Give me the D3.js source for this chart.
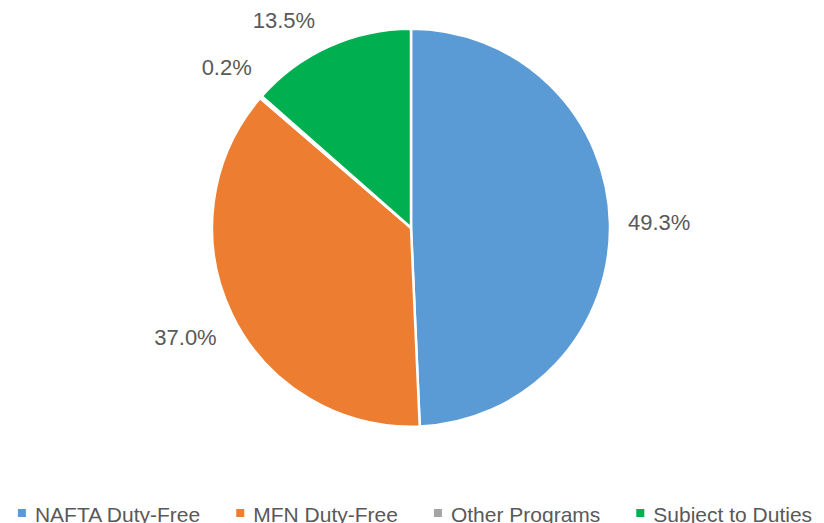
<!DOCTYPE html>
<html>
<head>
<meta charset="utf-8">
<script src="https://cdn.jsdelivr.net/npm/d3@7"></script>
<style>
  body { margin: 0; background: #fff; }
  svg { display: block; font-family: "Liberation Sans", Arial, sans-serif; }
</style>
</head>
<body>
<svg id="chart" width="824" height="523"></svg>
<script>
// share of imports by program, percent
var categories = ["NAFTA Duty-Free", "MFN Duty-Free", "Other Programs", "Subject to Duties"];
var values = [49.3, 37.0, 0.2, 13.5];
var colors = ["#5B9BD5", "#ED7D31", "#A5A5A5", "#00B050"];

var svg = d3.select("#chart"),
    width = +svg.attr("width"),
    height = +svg.attr("height");

var cx = 411, cy = 227.7, radius = 199;

var data = categories.map(function (c, i) {
    return {name: c, value: values[i], color: colors[i]};
});

var pie = d3.pie()
    .sort(null)
    .value(function (d) { return d.value; });

var arc = d3.arc()
    .innerRadius(0)
    .outerRadius(radius);

var arcs = pie(data);

var g = svg.append("g")
    .attr("transform", "translate(" + cx + "," + cy + ")");

g.selectAll("path")
    .data(arcs)
    .enter().append("path")
    .attr("d", arc)
    .attr("fill", function (d) { return d.data.color; })
    .attr("stroke", "#fff")
    .attr("stroke-width", 2.5)
    .attr("stroke-linejoin", "round");

// labels sit outside the end; nearest corner of the label box kept at a fixed gap
var labelGap = 217, halfH = 13, capHalf = 8, minTop = 12;

var labels = g.selectAll("text.lbl")
    .data(arcs)
    .enter().append("text")
    .attr("class", "lbl")
    .attr("text-anchor", "middle")
    .attr("font-size", 22)
    .attr("fill", "#595959")
    .text(function (d) { return d3.format(".1f")(d.data.value) + "%"; });

function boxCenter(theta, hw) {
    var ux = Math.sin(theta), uy = -Math.cos(theta);
    var lo = 0, hi = 500;
    for (var k = 0; k < 40; k++) {
        var m = (lo + hi) / 2,
            x = m * ux, y = m * uy,
            px = Math.max(x - hw, Math.min(0, x + hw)),
            py = Math.max(y - halfH, Math.min(0, y + halfH));
        if (Math.hypot(px, py) < labelGap) lo = m; else hi = m;
    }
    return [lo * ux, lo * uy];
}

labels.each(function (d) {
    var hw = this.getComputedTextLength() / 2;
    var theta = (d.startAngle + d.endAngle) / 2;
    var c = boxCenter(theta, hw);
    // slide along the circle if the label would run off the top
    var n = 0;
    while (cy + c[1] - capHalf < minTop && n < 400) {
        theta += theta > Math.PI ? -0.005 : 0.005;
        c = boxCenter(theta, hw);
        n++;
    }
    d3.select(this)
        .attr("x", c[0])
        .attr("y", c[1] + capHalf);
});

// legend along the bottom
var legend = svg.append("g")
    .attr("class", "legend");

var item = legend.selectAll("g")
    .data(data)
    .enter().append("g");

item.append("rect")
    .attr("width", 8)
    .attr("height", 8)
    .attr("y", 509)
    .attr("fill", function (d) { return d.color; });

item.append("text")
    .attr("x", 17)
    .attr("y", 522)
    .attr("font-size", 21)
    .attr("fill", "#595959")
    .text(function (d) { return d.name; });

var itemGap = 36, offsets = [], total = 0;
item.each(function () {
    var w = 17 + d3.select(this).select("text").node().getComputedTextLength();
    offsets.push(total);
    total += w + itemGap;
});
total -= itemGap;

var startX = 415 - total / 2;
item.attr("transform", function (d, i) {
    return "translate(" + (startX + offsets[i]) + ",0)";
});
</script>
</body>
</html>
